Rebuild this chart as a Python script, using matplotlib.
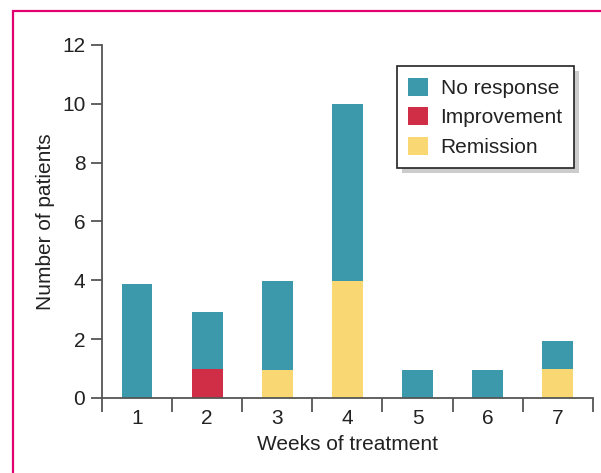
import matplotlib
matplotlib.use("Agg")
import matplotlib.pyplot as plt
from matplotlib.patches import Rectangle

weeks = [1, 2, 3, 4, 5, 6, 7]
no_response = [3.87, 1.93, 3.0, 6.04, 0.96, 0.96, 0.97]
improvement = [0, 1.0, 0, 0, 0, 0, 0]
remission = [0, 0, 0.96, 3.96, 0, 0, 0.98]

teal = '#3c99ab'
red = '#cf2e46'
yellow = '#f9d773'
grey = '#555555'

plt.rcParams['font.family'] = ['Liberation Sans', 'DejaVu Sans']

fig = plt.figure(figsize=(6.01, 4.73), dpi=100)
ax = fig.add_axes([0.1697, 0.1586, 0.8167, 0.7463])

# bars, stacked: improvement / remission at bottom, no response on top
base = [i + r for i, r in zip(improvement, remission)]
w = 0.44
ax.bar(weeks, improvement, width=w, color=red, label='Improvement', zorder=2)
ax.bar(weeks, remission, width=w, bottom=improvement, color=yellow, label='Remission', zorder=2)
ax.bar(weeks, no_response, width=w, bottom=base, color=teal, label='No response', zorder=2)

ax.set_xlim(0.5, 7.5)
ax.set_ylim(0, 12)

for s in ['top', 'right']:
    ax.spines[s].set_visible(False)
for s in ['left', 'bottom']:
    ax.spines[s].set_color(grey)
    ax.spines[s].set_linewidth(1.3)

fs = 15
ax.set_yticks(range(0, 13, 2))
ax.set_xticks([x + 0.5 for x in range(0, 8)])
ax.set_xticklabels([])
ax.set_xticks(weeks, minor=True)
ax.set_xticklabels([str(x) for x in weeks], minor=True)
ax.tick_params(axis='x', which='major', length=10, width=1.3, color=grey)
ax.tick_params(axis='x', which='minor', length=0, pad=8, labelsize=fs, labelcolor='#222222')
ax.tick_params(axis='y', length=8, width=1.3, color=grey, labelsize=fs, labelcolor='#222222', pad=4)

ax.set_xlabel('Weeks of treatment', fontsize=fs, color='#222222', labelpad=5)
ax.set_ylabel('Number of patients', fontsize=fs, color='#222222', labelpad=5)

h, l = ax.get_legend_handles_labels()
order = [2, 0, 1]
leg = ax.legend([h[i] for i in order], [l[i] for i in order],
                loc='upper right', bbox_to_anchor=(0.962, 0.94),
                fontsize=fs, fancybox=False, framealpha=1,
                edgecolor='#222222', handlelength=0.95, handleheight=0.95,
                handletextpad=0.6, labelspacing=0.45, borderpad=0.55,
                borderaxespad=0)
leg.get_frame().set_linewidth(1.2)
for t in leg.get_texts():
    t.set_color('#222222')

# drop shadow behind the legend box
fig.canvas.draw()
bb = leg.get_window_extent().transformed(ax.transAxes.inverted())
dx = 5 / (0.8167 * 601)
dy = 5 / (0.7463 * 473)
ax.add_patch(Rectangle((bb.x0 + dx, bb.y0 - dy), bb.width, bb.height,
                       transform=ax.transAxes, facecolor='#cccccc',
                       edgecolor='none', zorder=4, clip_on=False))

# magenta frame round the figure (cut off on right and bottom)
fig.patches.append(Rectangle((12.5 / 601, -0.1), 1.2, 1.1 - 11 / 473,
                             transform=fig.transFigure, fill=False,
                             edgecolor='#e0006e', linewidth=1.6))

fig.savefig('out.png', dpi=100)
